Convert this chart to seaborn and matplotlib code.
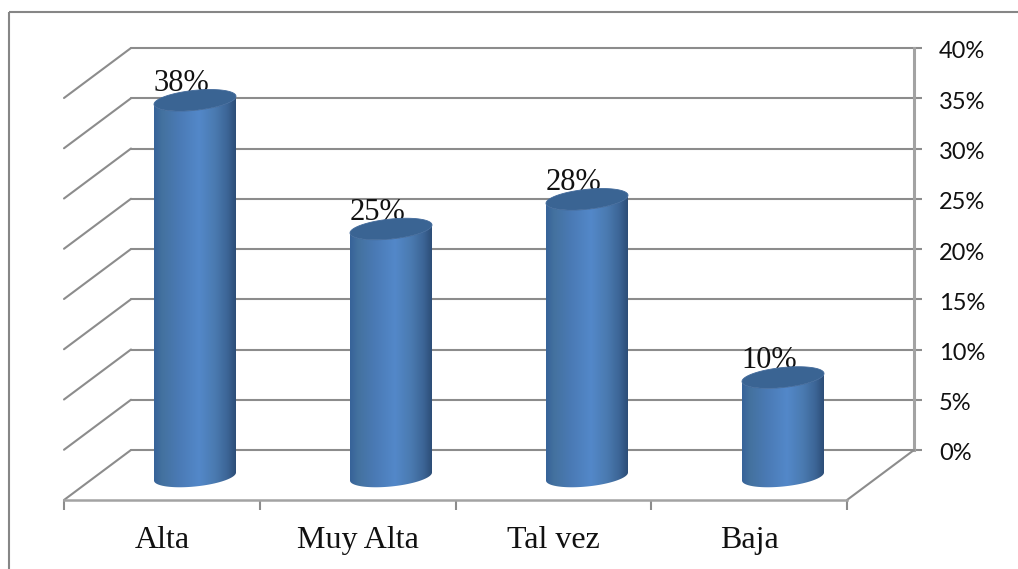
import numpy as np
import matplotlib
matplotlib.use("Agg")
import matplotlib.pyplot as plt
from matplotlib.colors import LinearSegmentedColormap
from matplotlib.patches import PathPatch, Polygon, Rectangle
from matplotlib.path import Path
from matplotlib.transforms import ScaledTranslation
import seaborn as sns

categories = ["Alta", "Muy Alta", "Tal vez", "Baja"]
values = [38, 25, 28, 10]
wall_ticks = [0, 5, 10, 15, 20, 25, 30, 35, 40]

W, H = 1018, 569
LINE = "#8c8c8c"

sns.set_theme(style="white")
plt.rcParams["font.family"] = ["Liberation Serif", "DejaVu Serif"]

fig = plt.figure(figsize=(W / 100, H / 100), dpi=100, facecolor="white")


def axes_px(left, top, right, bottom, **kw):
    # axes placed by pixel box of the picture (y going down)
    ax = fig.add_axes([left / W, 1 - bottom / H, (right - left) / W, (bottom - top) / H], **kw)
    ax.patch.set_alpha(0)
    return ax


# back wall with the percent scale on the right
wall = axes_px(131, 48, 914, 450, zorder=1)
wall.set_xlim(0, 1)
wall.set_ylim(0, 40)
wall.set_xticks([])
wall.set_yticks(wall_ticks)
wall.set_yticklabels([f"{t}%" for t in wall_ticks], family="Lato", fontsize=17, color="#111111")
wall.yaxis.tick_right()
wall.tick_params(axis="y", length=6, width=1.5, color=LINE, pad=12, right=True)
wall.grid(axis="y", color=LINE, lw=1.5)
for line in wall.get_ygridlines():
    line.set_clip_on(False)
shift = ScaledTranslation(0, -2 / 100, fig.dpi_scale_trans)
for lab in wall.get_yticklabels():
    lab.set_transform(lab.get_transform() + shift)
for name, sp in wall.spines.items():
    sp.set_visible(name == "right")
wall.spines["right"].set_color("#a3a3a3")
wall.spines["right"].set_linewidth(2.2)

# frame and side lines of the floor, in picture pixels
frame = axes_px(0, 0, W, H, zorder=2)
frame.set_xlim(0, W)
frame.set_ylim(H, 0)
frame.axis("off")
frame.add_patch(Rectangle((9.5, 12), W + 20, H + 20, fc="none", ec="#868686", lw=1.5))
for t in wall_ticks:
    y = 450 - t * 402 / 40
    frame.plot([131, 64], [y, y + 50], color=LINE, lw=1.5, solid_capstyle="round")
frame.plot([914, 847], [450, 500], color=LINE, lw=1.5)

# front axis with the category names
front = axes_px(64, 460, 847, 500, zorder=2)
front.set_xlim(0, 4)
front.set_ylim(0, 1)
front.set_yticks([])
front.set_xticks(range(5))
front.set_xticklabels([])
front.set_xticks([i + 0.5 for i in range(4)], minor=True)
front.set_xticklabels(categories, minor=True, fontsize=23, color="#111111")
front.tick_params(axis="x", which="major", length=7, width=1.5, color=LINE, bottom=True)
front.tick_params(axis="x", which="minor", length=0, pad=18.5)
for name, sp in front.spines.items():
    sp.set_visible(name == "bottom")
front.spines["bottom"].set_color("#a3a3a3")
front.spines["bottom"].set_linewidth(1.8)

# cylinders: 196 px per category, 9.9 px per percent
PX_X, PX_Y = 196.0, 9.9
bars = axes_px(0, 0, W, H, zorder=3)
sns.barplot(x=categories, y=values, ax=bars, width=82 / PX_X, color="#4a7ab5", saturation=1)

cmap = LinearSegmentedColormap.from_list(
    "cyl",
    [(0, "#376399"), (0.1, "#44729f"), (0.3, "#4a7ab5"), (0.55, "#5388c9"),
     (0.75, "#4a7ab0"), (0.9, "#3c6596"), (1, "#2d4e78")],
)
grad = np.linspace(0, 1, 200).reshape(1, -1)
t_low = np.linspace(np.pi, 2 * np.pi, 60)
t_all = np.linspace(0, 2 * np.pi, 120)
a = 41 / PX_X
b = 10 / PX_Y
s = 4 / PX_Y

for patch, val in zip(bars.patches, values):
    cx = patch.get_x() + patch.get_width() / 2
    xs = cx + a * np.cos(t_low)
    lower = s * np.cos(t_low) + b * np.sin(t_low)
    outline = np.column_stack([
        np.r_[xs, xs[::-1]],
        np.r_[lower, (val + lower)[::-1]],
    ])
    clip = PathPatch(Path(np.vstack([outline, outline[:1]])), transform=bars.transData, fc="none", ec="none")
    bars.add_patch(clip)
    im = bars.imshow(grad, cmap=cmap, aspect="auto", zorder=2,
                     extent=(cx - a, cx + a, -b - s, val + b), interpolation="bilinear")
    im.set_clip_path(clip)
    patch.set_visible(False)

    top = np.column_stack([cx + a * np.cos(t_all), val + s * np.cos(t_all) + b * np.sin(t_all)])
    bars.add_patch(Polygon(top, closed=True, fc="#3a6493", ec="#41699a", lw=0.6, zorder=3))
    bars.annotate(f"{val}%", (cx, val), xytext=(-10, 6.8), textcoords="offset points",
                  ha="center", va="baseline", fontsize=22, color="#111111", zorder=2.5)

bars.set_xlim(-195 / PX_X, (W - 195) / PX_X)
bars.set_ylim(-(H - 476.5) / PX_Y, 476.5 / PX_Y)
bars.axis("off")

fig.savefig("out.png", dpi=100)
